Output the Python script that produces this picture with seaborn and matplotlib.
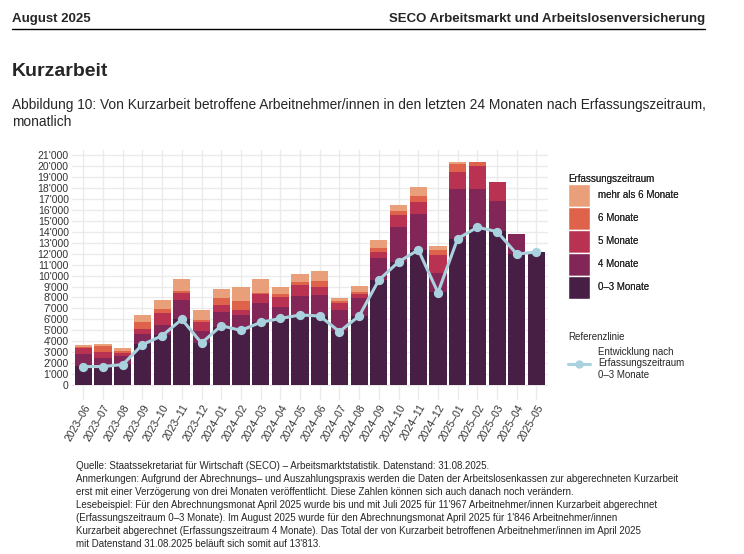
import matplotlib
matplotlib.use("Agg")
import matplotlib.pyplot as plt
from matplotlib.patches import Patch
from matplotlib.lines import Line2D
from matplotlib.ticker import FuncFormatter
import seaborn as sns
import pandas as pd

# months shown on the x axis
months = ["2023–06", "2023–07", "2023–08", "2023–09", "2023–10", "2023–11",
          "2023–12", "2024–01", "2024–02", "2024–03", "2024–04", "2024–05",
          "2024–06", "2024–07", "2024–08", "2024–09", "2024–10", "2024–11",
          "2024–12", "2025–01", "2025–02", "2025–03", "2025–04", "2025–05"]

# persons per Erfassungszeitraum
m0_3 = [1770, 1680, 1920, 3750, 4570, 6030, 3840, 5300, 5000, 5800, 6000, 6310,
        6310, 4940, 6310, 9600, 11250, 12350, 8500, 13380, 14450, 14120, 11967, 12160]
m4 = [1060, 790, 760, 910, 910, 1740, 1100, 1370, 1400, 1700, 1130, 1830,
      1920, 1920, 1650, 2020, 3200, 3290, 1740, 4550, 3480, 2710, 1846, 0]
m5 = [520, 550, 220, 460, 1100, 640, 820, 640, 460, 820, 910, 1000,
      730, 640, 360, 540, 1100, 1100, 1650, 1550, 2100, 1740, 0, 0]
m6 = [150, 580, 240, 640, 370, 210, 180, 640, 820, 90, 280, 280,
      550, 180, 190, 370, 360, 550, 460, 730, 370, 0, 0, 0]
m6plus = [160, 180, 240, 670, 820, 1070, 920, 820, 1310, 1280, 640, 730,
          910, 270, 540, 730, 550, 820, 360, 190, 0, 0, 0, 0]

# reference line: 0-3 Monate
ref_line = [1680, 1690, 1870, 3690, 4510, 6000, 3840, 5420, 4990, 5730, 6080, 6400,
            6310, 4880, 6310, 9600, 11250, 12350, 8450, 13380, 14420, 14020, 11967, 12160]

layer_labels = ["0–3 Monate", "4 Monate", "5 Monate", "6 Monate", "mehr als 6 Monate"]
layer_colors = ["#471f45", "#822657", "#ba3252", "#df634a", "#e9a07a"]
line_color = "#a9d2de"

sns.set_theme(style="whitegrid")
plt.rcParams["font.family"] = ["Liberation Sans", "DejaVu Sans"]

df = pd.DataFrame({"month": months, "m0_3": m0_3, "m4": m4, "m5": m5,
                   "m6": m6, "m6plus": m6plus, "ref": ref_line})
cols = ["m0_3", "m4", "m5", "m6", "m6plus"]
cum = df[cols].cumsum(axis=1)

fig = plt.figure(figsize=(7.44, 5.54), dpi=100)
ax = fig.add_axes([71.5 / 744, 1 - 400 / 554, (548.3 - 71.5) / 744, 250 / 554])

# stacked bars: draw cumulative totals from the top layer down
for c, col in reversed(list(zip(layer_colors, cols))):
    sns.barplot(x=df["month"], y=cum[col], color=c, saturation=1, width=0.87,
                linewidth=0, ax=ax)

sns.pointplot(x=df["month"], y=df["ref"], color=line_color, markers="o",
              markersize=5, linewidth=2.2, errorbar=None, ax=ax)

ax.set_ylim(-1370, 21480)
ax.set_xlim(-0.6, 23.6)
ax.set_yticks(range(0, 21001, 1000))
ax.yaxis.set_major_formatter(FuncFormatter(lambda v, p: f"{int(v):,}".replace(",", "'")))
ax.set_xlabel("")
ax.set_ylabel("")
ax.grid(True, color="#ebebeb", linewidth=1)
ax.set_axisbelow(True)
for s in ax.spines.values():
    s.set_visible(False)
ax.tick_params(axis="both", length=0, labelsize=7.5, colors="#333333", pad=2)
plt.setp(ax.get_xticklabels(), rotation=60, ha="right", va="top",
         rotation_mode="anchor")

# legends
handles = [Patch(facecolor=c, edgecolor="white", linewidth=1, label=l)
           for c, l in zip(layer_colors, layer_labels)][::-1]
leg1 = fig.legend(handles=handles, title="Erfassungszeitraum", loc="upper left",
                  bbox_to_anchor=(568 / 744, 1 - 174 / 554), frameon=False,
                  fontsize=7, title_fontsize=7, alignment="left",
                  handlelength=2.3, handleheight=3.25, labelspacing=0,
                  handletextpad=0.8, borderpad=0, borderaxespad=0)
fig.add_artist(leg1)
ref_handle = Line2D([0], [0], color=line_color, linewidth=2.2, marker="o",
                    markersize=5, label="Entwicklung nach\nErfassungszeitraum\n0–3 Monate")
fig.legend(handles=[ref_handle], title="Referenzlinie", loc="upper left",
           bbox_to_anchor=(568 / 744, 1 - 332 / 554), frameon=False,
           fontsize=7, title_fontsize=7, alignment="left",
           handlelength=2.3, handletextpad=0.8, borderpad=0, borderaxespad=0)

# header
fig.text(12 / 744, 1 - 19 / 554, "August 2025", fontsize=9.5, fontweight="bold",
         va="center", ha="left")
fig.text(705 / 744, 1 - 19 / 554, "SECO Arbeitsmarkt und Arbeitslosenversicherung",
         fontsize=9.5, fontweight="bold", va="center", ha="right")
fig.add_artist(Line2D([12 / 744, 705 / 744], [1 - 29 / 554, 1 - 29 / 554],
                      color="black", linewidth=1))
fig.text(12 / 744, 1 - 72 / 554, "Kurzarbeit", fontsize=14, fontweight="bold",
         va="center", ha="left")
fig.text(12 / 744, 1 - 105 / 554,
         "Abbildung 10: Von Kurzarbeit betroffene Arbeitnehmer/innen in den letzten "
         "24 Monaten nach Erfassungszeitraum,", fontsize=9.9, va="center", ha="left")
fig.text(12 / 744, 1 - 122 / 554, "monatlich", fontsize=9.9, va="center", ha="left")

notes = [
    "Quelle: Staatssekretariat für Wirtschaft (SECO) – Arbeitsmarktstatistik. Datenstand: 31.08.2025.",
    "Anmerkungen: Aufgrund der Abrechnungs– und Auszahlungspraxis werden die Daten der Arbeitslosenkassen zur abgerechneten Kurzarbeit",
    "erst mit einer Verzögerung von drei Monaten veröffentlicht. Diese Zahlen können sich auch danach noch verändern.",
    "Lesebeispiel: Für den Abrechnungsmonat April 2025 wurde bis und mit Juli 2025 für 11'967 Arbeitnehmer/innen Kurzarbeit abgerechnet",
    "(Erfassungszeitraum 0–3 Monate). Im August 2025 wurde für den Abrechnungsmonat April 2025 für 1'846 Arbeitnehmer/innen",
    "Kurzarbeit abgerechnet (Erfassungszeitraum 4 Monate). Das Total der von Kurzarbeit betroffenen Arbeitnehmer/innen im April 2025",
    "mit Datenstand 31.08.2025 beläuft sich somit auf 13'813.",
]
for i, line in enumerate(notes):
    fig.text(76 / 744, 1 - (466 + 13 * i) / 554, line, fontsize=7.05,
             va="center", ha="left")

fig.savefig("out.png", dpi=100)
